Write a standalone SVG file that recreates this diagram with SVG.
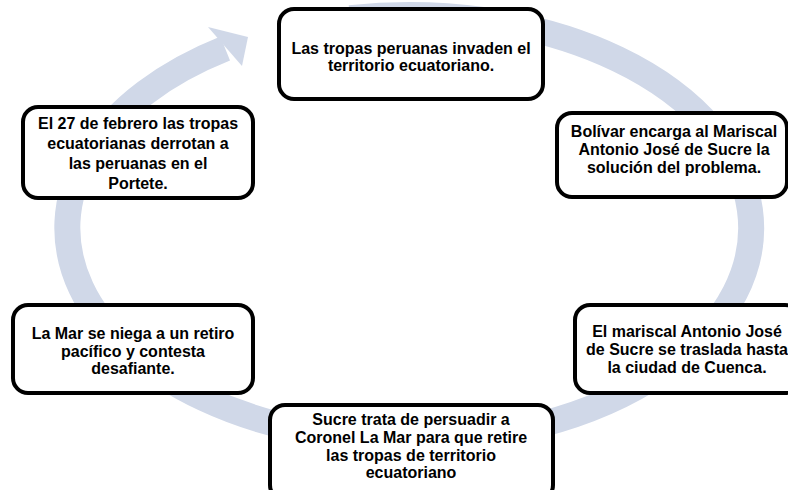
<svg xmlns="http://www.w3.org/2000/svg" width="788" height="490" viewBox="0 0 788 490">
<style>
.ring{fill:none;stroke:#d0d8e8;stroke-width:26}
.head{fill:#d0d8e8}
.box{fill:#ffffff;stroke:#000000;stroke-width:4}
.t{font-family:"Liberation Sans",Arial,sans-serif;font-weight:bold;font-size:16px;fill:#000000;text-anchor:middle}
</style>
<rect width="788" height="490" fill="#ffffff"/>
<g id="connectors">
<path class="ring" d="M350.1,18.2 A342,213 0 1 1 409.5,441 A342,213 0 0 1 225.2,48.5"/>
<polygon class="head" points="208,27 248,37 242,66"/>
</g>
<g id="node1">
<rect class="box" x="279" y="9" width="264" height="90" rx="15"/>
<text class="t" x="411" y="54">Las tropas peruanas invaden el</text>
<text class="t" x="411" y="71">territorio ecuatoriano.</text>
</g>
<g id="node2">
<rect class="box" x="557" y="113" width="230" height="84" rx="15"/>
<text class="t" x="674" y="137">Bolívar encarga al Mariscal</text>
<text class="t" x="674" y="155">Antonio José de Sucre la</text>
<text class="t" x="674" y="173">solución del problema.</text>
</g>
<g id="node3">
<rect class="box" x="575" y="305" width="225" height="88" rx="15"/>
<text class="t" x="687" y="337">El mariscal Antonio José</text>
<text class="t" x="687" y="355">de Sucre se traslada hasta</text>
<text class="t" x="687" y="373">la ciudad de Cuenca.</text>
</g>
<g id="node4">
<rect class="box" x="270" y="405" width="283" height="95" rx="15"/>
<text class="t" x="411" y="425">Sucre trata de persuadir a</text>
<text class="t" x="411" y="443">Coronel La Mar para que retire</text>
<text class="t" x="411" y="461">las tropas de territorio</text>
<text class="t" x="411" y="478">ecuatoriano</text>
</g>
<g id="node5">
<rect class="box" x="13" y="305" width="240" height="88" rx="15"/>
<text class="t" x="133" y="339">La Mar se niega a un retiro</text>
<text class="t" x="133" y="357">pacífico y contesta</text>
<text class="t" x="133" y="374">desafiante.</text>
</g>
<g id="node6">
<rect class="box" x="23" y="107" width="230" height="91" rx="15"/>
<text class="t" x="138" y="129">El 27 de febrero las tropas</text>
<text class="t" x="138" y="149">ecuatorianas derrotan a</text>
<text class="t" x="138" y="169">las peruanas en el</text>
<text class="t" x="138" y="189">Portete.</text>
</g>
</svg>
